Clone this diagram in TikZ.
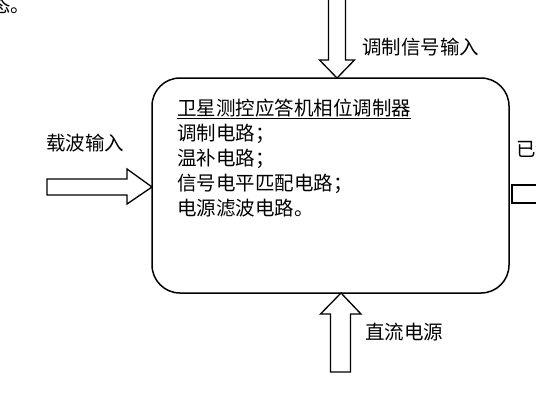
\documentclass[tikz,border=0pt]{standalone}
\usepackage{fontspec}
\setmainfont{Noto Sans CJK SC}
\usetikzlibrary{calc,positioning}

\begin{document}
\begin{tikzpicture}[x=1pt,y=-1pt,
 hollow/.style={draw=black,fill=white,line width=1.3pt,line join=miter},
 txt/.style={inner sep=0pt,anchor=base west,font=\fontsize{19.5}{25}\selectfont}]

 \useasboundingbox (0,0) rectangle (536,410);
 \clip (0,0) rectangle (536,410);

% text cut off at the top left
 \node[txt] (prev) at (-9,12) {态。};

% the modulator block
 \draw[line width=1.5pt,rounded corners=28pt] (152,78) rectangle (509,293);
 \coordinate (topin) at (337,78);
 \coordinate (leftin) at (152,187);
 \coordinate (botin) at (341,293);
 \coordinate (rightout) at (512,185);

 \node[txt] (title) at (177,115) {\underline{卫星测控应答机相位调制器}};
 \node[txt] (l1) at (177,140) {调制电路；};
 \node[txt] (l2) at (177,165) {温补电路；};
 \node[txt] (l3) at (177,190) {信号电平匹配电路；};
 \node[txt] (l4) at (177,215) {电源滤波电路。};

% block arrows
 \draw[hollow] (topin) -- ++(-17.5,-18) -- ++(9,0) -- ++(0,-70)
     -- ++(17,0) -- ++(0,70) -- ++(9,0) -- cycle;
 \draw[hollow] (leftin) -- ++(-25,-18) -- ++(0,10) -- ++(-80,0)
     -- ++(0,16) -- ++(80,0) -- ++(0,9) -- cycle;
 \draw[hollow] (botin) -- ++(-20.5,21) -- ++(10,0) -- ++(0,58)
     -- ++(20,0) -- ++(0,-58) -- ++(10.5,0) -- cycle;
 \draw[hollow] (rightout) rectangle ++(40,18);

% labels
 \node[txt] (modin) at (362,54) {调制信号输入};
 \node[txt] (carrier) at (46,150) {载波输入};
 \node[txt] (dcpower) at (365,339) {直流电源};
 \node[txt] (modout) at (516,156) {已调制信号输出};

\end{tikzpicture}
\end{document}
